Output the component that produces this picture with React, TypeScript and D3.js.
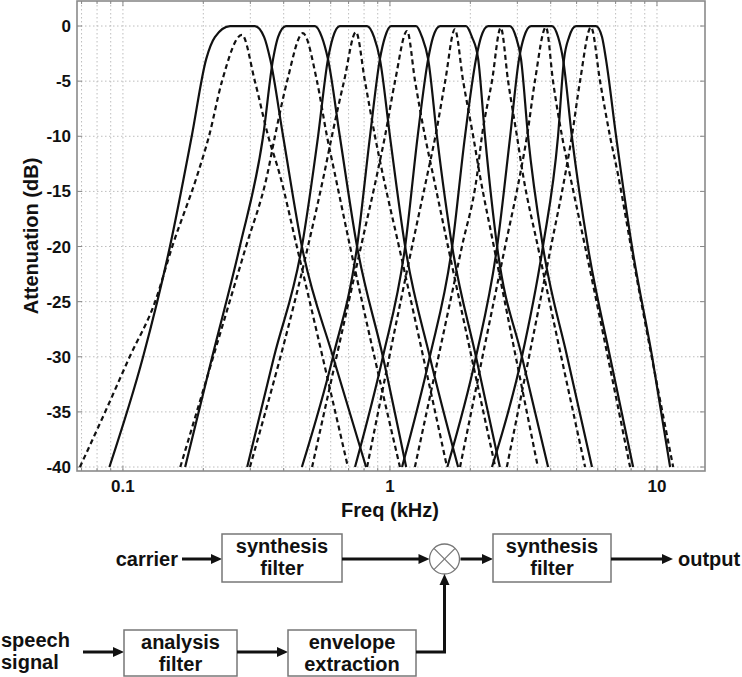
import React from 'react';
import * as d3 from 'd3';

// ---- data ----
const yTickValues = [0, -5, -10, -15, -20, -25, -30, -35, -40];
const xTickLabels = [0.1, 1, 10];
const xGridValues = [
  0.07, 0.08, 0.09, 0.1, 0.2, 0.3, 0.4, 0.5, 0.6, 0.7, 0.8, 0.9,
  1, 2, 3, 4, 5, 6, 7, 8, 9, 10,
];

// solid curves: flat-top filters (kHz at the dB levels below)
const solidLevels = [-40, -30, -20, -10, -3, -1, 0, 0, -1, -3, -10, -20, -30, -40];
const solidFreqs = [
  [0.089, 0.119, 0.15, 0.181, 0.205, 0.221, 0.252, 0.312, 0.338, 0.356, 0.398, 0.468, 0.612, 0.814],
  [0.171, 0.216, 0.274, 0.335, 0.365, 0.381, 0.408, 0.524, 0.556, 0.586, 0.649, 0.753, 0.941, 1.15],
  [0.292, 0.368, 0.468, 0.538, 0.586, 0.612, 0.649, 0.821, 0.872, 0.917, 1.0, 1.14, 1.41, 1.8],
  [0.468, 0.612, 0.753, 0.842, 0.917, 0.958, 1.009, 1.253, 1.319, 1.39, 1.5, 1.71, 2.1, 2.58],
  [0.74, 0.941, 1.14, 1.27, 1.39, 1.45, 1.54, 1.927, 2.029, 2.14, 2.27, 2.52, 3.12, 3.91],
  [1.11, 1.41, 1.71, 1.91, 2.1, 2.193, 2.331, 2.815, 2.965, 3.096, 3.29, 3.74, 4.61, 5.71],
  [1.64, 2.1, 2.52, 2.82, 3.043, 3.176, 3.374, 4.047, 4.263, 4.448, 4.8, 5.51, 6.67, 8.14],
  [2.41, 3.12, 3.74, 4.26, 4.487, 4.685, 4.973, 5.911, 6.226, 6.44, 7.03, 8.06, 9.59, 11.2],
];

// dashed curves: peaked filters
const dashedFreqs = [
  [0.069, 0.0858, 0.106, 0.132, 0.153, 0.19, 0.21, 0.235, 0.279, 0.312, 0.35, 0.387, 0.448, 0.696],
  [0.164, 0.289, 0.347, 0.371, 0.412, 0.472, 0.533, 0.581, 0.623, 0.709, 1.09],
  [0.299, 0.493, 0.566, 0.606, 0.673, 0.746, 0.806, 0.879, 0.941, 1.081, 1.636],
  [0.511, 0.779, 0.894, 0.958, 1.045, 1.159, 1.242, 1.353, 1.45, 1.65, 2.48],
  [0.821, 1.21, 1.38, 1.48, 1.61, 1.75, 1.88, 2.05, 2.17, 2.45, 3.58],
  [1.24, 1.86, 2.12, 2.21, 2.41, 2.6, 2.77, 2.99, 3.15, 3.58, 5.38],
  [1.83, 2.7, 3.07, 3.26, 3.49, 3.84, 4.08, 4.41, 4.72, 5.38, 7.93],
  [2.74, 4.01, 4.53, 4.8, 5.15, 5.66, 6.12, 6.67, 7.15, 7.99, 11.5],
];
const dashedLevels = [
  [-40, -35, -30, -25, -20, -13.5, -10, -5, -0.8, -5, -10, -13.5, -20, -40],
  [-40, -20, -13.5, -10, -5, -0.65, -5, -10, -13.5, -20, -40],
  [-40, -20, -13.5, -10, -5, -0.55, -5, -10, -13.5, -20, -40],
  [-40, -20, -13.5, -10, -5, -0.45, -5, -10, -13.5, -20, -40],
  [-40, -20, -13.5, -10, -5, -0.3, -5, -10, -13.5, -20, -40],
  [-40, -20, -13.5, -10, -5, -0.15, -5, -10, -13.5, -20, -40],
  [-40, -20, -13.5, -10, -5, -0.1, -5, -10, -13.5, -20, -40],
  [-40, -20, -13.5, -10, -5, -0.1, -5, -10, -13.5, -20, -40],
];

const W = 742;
const H = 677;
const plot = { left: 77, right: 705, top: 1, bottom: 471 };
const FONT = "'Liberation Sans', Arial, Helvetica, sans-serif";

const x = d3.scaleLog().domain([0.0673, 15.13]).range([plot.left, plot.right]);
const y = d3.scaleLinear().domain([-40.36, 2.27]).range([plot.bottom, plot.top]);

const curveLine = d3
  .line<[number, number]>()
  .x((d) => x(d[0]))
  .y((d) => y(d[1]))
  .curve(d3.curveMonotoneX);

const Arrow: React.FC<{ x1: number; y1: number; x2: number; y2: number }> = ({ x1, y1, x2, y2 }) => {
  const ang = Math.atan2(y2 - y1, x2 - x1);
  const len = 11;
  const half = 5;
  const bx = x2 - len * Math.cos(ang);
  const by = y2 - len * Math.sin(ang);
  const p1 = [bx + half * Math.sin(ang), by - half * Math.cos(ang)];
  const p2 = [bx - half * Math.sin(ang), by + half * Math.cos(ang)];
  return (
    <g>
      <line x1={x1} y1={y1} x2={bx + Math.cos(ang)} y2={by + Math.sin(ang)} stroke="#111" strokeWidth={3} />
      <polygon points={`${x2},${y2} ${p1[0]},${p1[1]} ${p2[0]},${p2[1]}`} fill="#111" />
    </g>
  );
};

const Box: React.FC<{ x0: number; x1: number; y0: number; y1: number; lines: string[] }> = ({
  x0, x1, y0, y1, lines,
}) => {
  const cx = (x0 + x1) / 2;
  return (
    <g>
      <rect x={x0} y={y0} width={x1 - x0} height={y1 - y0} fill="#fff" stroke="#777" strokeWidth={1.5} />
      <text x={cx} y={y0 + 19} textAnchor="middle" fontSize={20} fontWeight="bold" fontFamily={FONT} fill="#111">
        {lines[0]}
      </text>
      <text x={cx} y={y0 + 41} textAnchor="middle" fontSize={20} fontWeight="bold" fontFamily={FONT} fill="#111">
        {lines[1]}
      </text>
    </g>
  );
};

export default function App() {
  const gridColor = '#bdbdbd';
  const circle = { cx: 444.5, cy: 559, r: 15 };
  const top = 559;
  const bot = 652;

  return (
    <svg
      width={W}
      height={H}
      viewBox={`0 0 ${W} ${H}`}
      style={{ position: 'absolute', left: 0, top: 0, background: '#fff' }}
    >
      <defs>
        <clipPath id="plotClip">
          <rect x={plot.left} y={plot.top} width={plot.right - plot.left} height={plot.bottom - plot.top} />
        </clipPath>
      </defs>
      <rect x={0} y={0} width={W} height={H} fill="#fff" />

      {/* grid */}
      <g>
        {xGridValues.map((v) => (
          <line
            key={`gx${v}`}
            x1={x(v)}
            x2={x(v)}
            y1={plot.top}
            y2={plot.bottom}
            stroke={gridColor}
            strokeWidth={1}
            strokeDasharray="1.5 2.5"
          />
        ))}
        {yTickValues.map((v) => (
          <line
            key={`gy${v}`}
            x1={plot.left}
            x2={plot.right}
            y1={y(v)}
            y2={y(v)}
            stroke={gridColor}
            strokeWidth={1}
            strokeDasharray="1.5 2.5"
          />
        ))}
      </g>

      {/* ticks */}
      <g stroke="#888" strokeWidth={1}>
        {yTickValues.map((v) => (
          <g key={`ty${v}`}>
            <line x1={plot.left} x2={plot.left + 5} y1={y(v)} y2={y(v)} />
            <line x1={plot.right - 5} x2={plot.right} y1={y(v)} y2={y(v)} />
          </g>
        ))}
        {xGridValues.map((v) => {
          const l = xTickLabels.includes(v) ? 5 : 3;
          return (
            <g key={`tx${v}`}>
              <line x1={x(v)} x2={x(v)} y1={plot.bottom} y2={plot.bottom - l} />
              <line x1={x(v)} x2={x(v)} y1={plot.top} y2={plot.top + l} />
            </g>
          );
        })}
      </g>

      {/* curves */}
      <g clipPath="url(#plotClip)" fill="none" stroke="#111" strokeWidth={2.2} strokeLinejoin="round">
        {solidFreqs.map((fs, i) => (
          <path key={`s${i}`} d={curveLine(fs.map((f, j) => [f, solidLevels[j]] as [number, number])) || ''} />
        ))}
        {dashedFreqs.map((fs, i) => (
          <path
            key={`d${i}`}
            strokeDasharray="5 3.5"
            d={curveLine(fs.map((f, j) => [f, dashedLevels[i][j]] as [number, number])) || ''}
          />
        ))}
      </g>

      {/* axes box */}
      <rect
        x={plot.left}
        y={plot.top}
        width={plot.right - plot.left}
        height={plot.bottom - plot.top}
        fill="none"
        stroke="#8a8a8a"
        strokeWidth={1.6}
      />

      {/* tick labels */}
      <g fontFamily={FONT} fontWeight="bold" fontSize={17} fill="#111">
        {yTickValues.map((v) => (
          <text key={`ly${v}`} x={71} y={y(v) + 6} textAnchor="end">
            {v}
          </text>
        ))}
        {xTickLabels.map((v) => (
          <text key={`lx${v}`} x={x(v)} y={492} textAnchor="middle">
            {v}
          </text>
        ))}
      </g>
      <text x={390} y={517} textAnchor="middle" fontFamily={FONT} fontWeight="bold" fontSize={20} fill="#111">
        Freq (kHz)
      </text>
      <text
        transform={`translate(38, ${(plot.top + plot.bottom) / 2}) rotate(-90)`}
        textAnchor="middle"
        fontFamily={FONT}
        fontWeight="bold"
        fontSize={20}
        fill="#111"
      >
        Attenuation (dB)
      </text>

      {/* block diagram */}
      <g fontFamily={FONT} fontWeight="bold" fontSize={20} fill="#111">
        <text x={178} y={top + 7} textAnchor="end">carrier</text>
        <text x={678} y={top + 7}>output</text>
        <text x={1} y={bot - 5}>speech</text>
        <text x={1} y={bot + 17}>signal</text>
      </g>

      <Arrow x1={182} y1={top} x2={222} y2={top} />
      <Box x0={222} x1={342} y0={534} y1={582} lines={['synthesis', 'filter']} />
      <Arrow x1={342} y1={top} x2={circle.cx - circle.r} y2={top} />
      <g stroke="#777" strokeWidth={1.3} fill="#fff">
        <circle cx={circle.cx} cy={circle.cy} r={circle.r} />
        <line
          x1={circle.cx - circle.r * 0.707}
          y1={circle.cy - circle.r * 0.707}
          x2={circle.cx + circle.r * 0.707}
          y2={circle.cy + circle.r * 0.707}
        />
        <line
          x1={circle.cx - circle.r * 0.707}
          y1={circle.cy + circle.r * 0.707}
          x2={circle.cx + circle.r * 0.707}
          y2={circle.cy - circle.r * 0.707}
        />
      </g>
      <Arrow x1={circle.cx + circle.r + 1} y1={top} x2={493} y2={top} />
      <Box x0={493} x1={611} y0={534} y1={582} lines={['synthesis', 'filter']} />
      <Arrow x1={611} y1={top} x2={673} y2={top} />

      <Arrow x1={83} y1={bot} x2={124} y2={bot} />
      <Box x0={124} x1={237} y0={630} y1={676} lines={['analysis', 'filter']} />
      <Arrow x1={237} y1={bot} x2={288} y2={bot} />
      <Box x0={288} x1={416} y0={630} y1={676} lines={['envelope', 'extraction']} />
      <polyline
        points={`416,${bot} ${circle.cx},${bot} ${circle.cx},${circle.cy + circle.r + 11}`}
        fill="none"
        stroke="#111"
        strokeWidth={3}
      />
      <Arrow x1={circle.cx} y1={circle.cy + circle.r + 12} x2={circle.cx} y2={circle.cy + circle.r} />
    </svg>
  );
}
